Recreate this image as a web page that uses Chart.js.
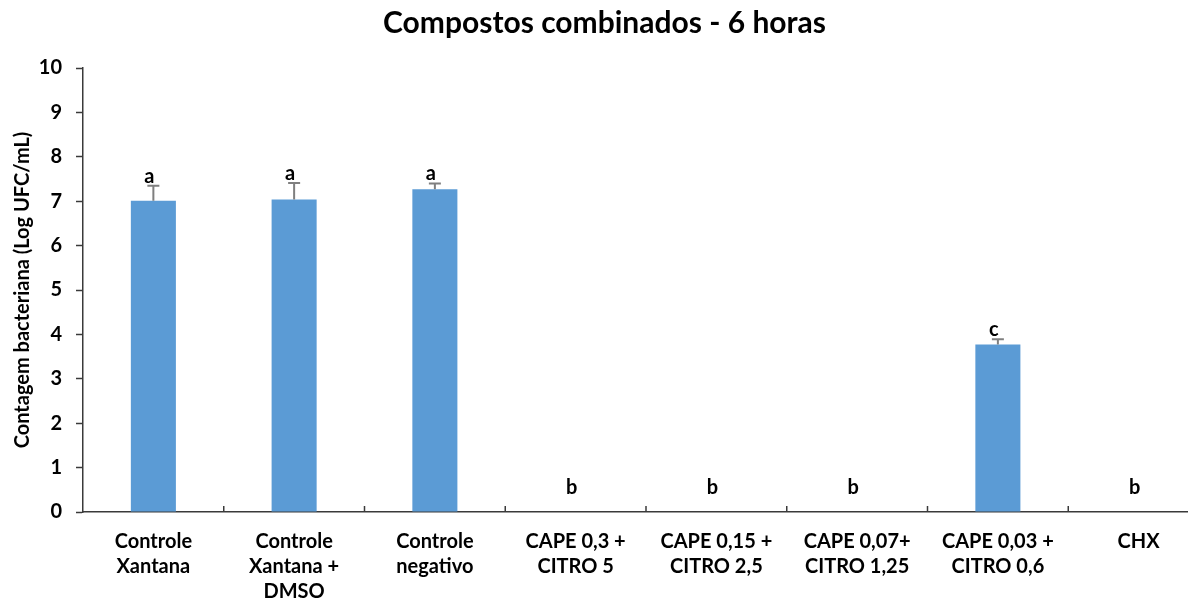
<!DOCTYPE html>
<html>
<head>
<meta charset="utf-8">
<script src="https://cdn.jsdelivr.net/npm/chart.js@4/dist/chart.umd.min.js"></script>
<style>
  html, body { margin: 0; padding: 0; background: #fff; overflow: hidden; }
  #wrap { width: 1240px; height: 606px; }
</style>
</head>
<body>
<div id="wrap"><canvas id="chart" width="1240" height="606"></canvas></div>
<script>
// data
const categories = [
  ['Controle', 'Xantana'],
  ['Controle', 'Xantana +', 'DMSO'],
  ['Controle', 'negativo'],
  ['CAPE 0,3 +', 'CITRO 5'],
  ['CAPE 0,15 +', 'CITRO 2,5'],
  ['CAPE 0,07+', 'CITRO 1,25'],
  ['CAPE 0,03 +', 'CITRO 0,6'],
  ['CHX']
];
const means = [7.01, 7.04, 7.27, 0, 0, 0, 3.77, 0];
const errors = [0.34, 0.37, 0.13, 0, 0, 0, 0.12, 0];
const letters = ['a', 'a', 'a', 'b', 'b', 'b', 'c', 'b'];
const yTicks = [0, 1, 2, 3, 4, 5, 6, 7, 8, 9, 10];

// Lato is the closest installed face to Calibri
const FONT = "Lato, 'Open Sans', sans-serif";

// error bars, letters and the small upward ticks on the x axis
const extras = {
  id: 'extras',
  afterDatasetsDraw(chart) {
    const ctx = chart.ctx;
    const x = chart.scales.x, y = chart.scales.y;
    const base = y.getPixelForValue(0);
    ctx.save();
    // error bars
    ctx.strokeStyle = '#7f7f7f';
    ctx.lineWidth = 2;
    means.forEach((m, i) => {
      if (!errors[i]) return;
      const px = x.getPixelForValue(i);
      const y0 = y.getPixelForValue(m);
      const y1 = y.getPixelForValue(m + errors[i]);
      ctx.beginPath();
      ctx.moveTo(px, y0);
      ctx.lineTo(px, y1);
      ctx.moveTo(px - 6, y1);
      ctx.lineTo(px + 6, y1);
      ctx.stroke();
    });
    // significance letters
    ctx.fillStyle = '#000';
    ctx.font = 'bold 20px ' + FONT;
    ctx.textAlign = 'center';
    ctx.textBaseline = 'alphabetic';
    means.forEach((m, i) => {
      const px = x.getPixelForValue(i);
      let by = y.getPixelForValue(m + errors[i]) - 3;
      by = Math.min(by, base - 18);
      ctx.fillText(letters[i], px - 4, by);
    });
    // category separator ticks pointing up
    ctx.strokeStyle = '#3a3a3a';
    ctx.lineWidth = 1.5;
    for (let i = 1; i < categories.length; i++) {
      const bx = (x.getPixelForValue(i - 1) + x.getPixelForValue(i)) / 2;
      ctx.beginPath();
      ctx.moveTo(bx, base);
      ctx.lineTo(bx, base - 6);
      ctx.stroke();
    }
    ctx.restore();
  }
};

new Chart(document.getElementById('chart'), {
  type: 'bar',
  data: {
    labels: categories,
    datasets: [{
      data: means,
      backgroundColor: '#5b9bd5',
      borderWidth: 0,
      barPercentage: 0.32,
      categoryPercentage: 1
    }]
  },
  options: {
    responsive: false,
    animation: false,
    layout: { padding: { left: 0, right: 31, top: 0, bottom: 0 } },
    plugins: {
      legend: { display: false },
      tooltip: { enabled: false },
      title: {
        display: true,
        text: 'Compostos combinados - 6 horas',
        color: '#000',
        font: { family: FONT, size: 30, weight: 'bold' },
        padding: { top: 5, bottom: 27 }
      }
    },
    scales: {
      x: {
        offset: true,
        grid: { display: true, drawOnChartArea: false, drawTicks: false },
        border: { color: '#3a3a3a', width: 1.5 },
        ticks: {
          color: '#000',
          padding: 17,
          maxRotation: 0,
          autoSkip: false,
          font: { family: FONT, size: 20, weight: 'bold', lineHeight: 1.25 }
        },
        afterFit: s => { s.height = 94; }
      },
      y: {
        min: 0,
        max: 10,
        afterBuildTicks: s => { s.ticks = yTicks.map(v => ({ value: v })); },
        grid: { drawOnChartArea: false, drawTicks: true, tickLength: 7, tickColor: '#3a3a3a', tickWidth: 1.5 },
        border: { color: '#3a3a3a', width: 1.5 },
        ticks: {
          color: '#000',
          padding: 14,
          font: { family: FONT, size: 20, weight: 'bold' }
        },
        title: {
          display: true,
          text: 'Contagem bacteriana (Log UFC/mL)',
          color: '#000',
          font: { family: FONT, size: 20, weight: 'bold' },
          padding: { top: 11, bottom: 0 }
        },
        afterFit: s => { s.width = 83; }
      }
    }
  },
  plugins: [extras]
});
</script>
</body>
</html>
